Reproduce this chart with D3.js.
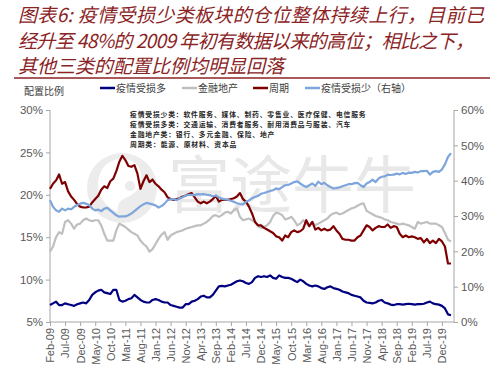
<!DOCTYPE html>
<meta charset="utf-8">
<style>
  body { margin: 0; background: #fff; }
  text { font-family: "Liberation Sans", Arial, sans-serif; }
  .cjk { font-family: "Noto Sans CJK SC", sans-serif; }
</style>
<script src="https://d3js.org/d3.v7.min.js"></script>
<div id="chart"></div>
<script>
// monthly data, Feb-09 .. Mar-20 (134 points)
var tickLabels = ["Feb-09","Jul-09","Dec-09","May-10","Oct-10","Mar-11","Aug-11","Jan-12","Jun-12","Nov-12",
  "Apr-13","Sep-13","Feb-14","Jul-14","Dec-14","May-15","Oct-15","Mar-16","Aug-16","Jan-17","Jun-17",
  "Nov-17","Apr-18","Sep-18","Feb-19","Jul-19","Dec-19"];

// 疫情受损多 (left axis)
var hurtMore = [7.0,7.2,7.4,7.0,7.0,7.2,7.1,7.0,6.9,7.1,7.2,
  7.3,7.2,7.6,8.2,8.5,8.7,8.8,8.5,8.4,8.3,8.8,8.8,
  7.6,7.4,7.5,7.7,7.8,8.2,7.9,7.6,7.4,7.3,7.3,7.6,
  7.7,7.6,7.4,7.3,7.3,7.0,6.9,6.8,6.7,6.7,7.1,7.1,
  7.4,7.5,7.7,8.0,8.1,7.9,7.9,8.2,8.7,9.2,9.25,9.2,
  9.3,9.4,9.6,9.8,9.9,9.8,9.6,9.5,9.7,10.2,10.4,10.3,
  10.4,10.3,10.5,10.2,10.1,10.5,10.3,10.2,10.2,10.1,9.9,9.7,
  10.0,9.8,9.5,9.3,9.2,9.3,9.2,9.0,8.9,9.1,9.2,9.0,
  8.9,8.8,8.6,8.5,8.4,8.2,8.1,8.0,7.9,7.5,7.3,7.25,
  7.2,7.3,7.5,7.6,7.3,7.2,7.05,7.0,7.1,7.1,7.05,7.1,
  7.15,7.1,7.05,7.1,7.1,7.15,7.3,7.4,7.2,7.1,7.05,6.9,
  6.6,5.9,5.8];

// 金融地产 (left axis)
var finance = [13.3,13.9,15.0,15.6,15.4,16.8,17.0,16.6,16.0,16.5,16.6,
  17.0,17.2,17.0,16.9,17.0,17.0,16.4,15.4,14.6,14.6,14.6,15.8,
  16.6,16.4,16.2,15.9,15.6,15.4,15.2,14.6,14.2,13.9,13.3,13.6,
  14.2,14.8,15.3,15.6,14.7,15.2,15.4,15.6,15.7,15.8,16.0,16.1,
  16.2,16.3,16.4,16.4,16.6,16.8,17.1,17.5,17.6,17.4,17.6,17.9,
  18.0,17.8,18.2,18.4,17.4,17.0,17.1,17.2,17.0,16.8,16.3,16.1,
  16.2,16.4,16.8,17.5,17.9,17.8,17.6,17.1,17.2,17.4,17.0,16.4,
  16.6,17.0,16.6,16.3,16.8,16.4,16.6,16.8,17.0,17.2,17.6,17.8,
  17.9,17.7,17.8,18.0,18.2,18.4,18.5,18.7,18.9,19.0,18.1,17.9,
  17.7,17.5,17.4,17.3,17.1,17.0,16.8,16.7,16.6,16.5,16.6,16.5,
  16.4,16.2,16.0,16.8,16.6,16.7,16.8,16.6,16.6,16.6,16.4,16.2,
  15.5,14.7,14.5];

// 周期 (left axis)
var cyclical = [20.7,21.3,21.7,22.4,21.3,21.5,20.4,19.8,19.4,18.9,18.6,
  18.5,18.5,18.6,19.1,19.5,19.9,20.6,21.0,20.8,21.6,21.9,22.8,
  23.9,24.6,24.1,23.4,23.3,23.5,22.5,20.7,21.6,22.3,21.5,21.8,
  21.3,21.0,20.6,20.3,19.7,19.5,19.4,19.5,19.6,19.8,19.9,20.1,
  20.2,19.7,19.2,19.0,19.2,19.0,19.2,19.5,19.9,19.2,19.4,19.4,
  19.4,19.5,19.6,19.8,20.2,19.5,19.2,18.6,17.8,16.8,16.4,16.4,
  16.1,15.9,15.7,15.5,15.1,15.0,14.6,15.2,15.0,15.6,15.8,15.6,
  15.7,16.0,17.0,16.3,16.8,15.9,16.1,15.8,16.0,15.8,15.9,16.3,
  15.8,15.4,14.8,14.7,14.7,14.6,14.6,15.0,15.2,15.8,16.4,16.2,
  15.8,16.1,16.3,16.2,16.2,16.5,16.1,16.3,16.2,15.4,15.0,15.2,
  15.0,15.1,15.0,14.8,14.9,14.4,14.8,14.3,14.6,14.3,14.8,14.5,
  13.9,11.9,11.9];

// 疫情受损少 (right axis)
var hurtLess = [34.5,32.6,31.6,31.2,32.1,31.6,32.1,31.9,32.6,33.1,33.5,
  33.7,33.5,33.1,32.1,31.6,31.8,31.4,32.1,32.3,31.6,30.9,30.2,
  29.8,29.9,29.9,30.2,30.7,31.4,32.1,32.8,33.3,33.7,33.5,33.3,
  33.0,32.4,32.8,33.5,34.5,34.7,34.8,34.5,35.0,35.3,35.8,36.0,
  36.0,35.9,36.2,36.1,36.2,36.0,35.9,35.6,35.8,35.3,34.9,34.7,
  34.6,34.3,34.0,33.6,33.4,33.3,34.0,34.4,35.0,35.4,35.7,36.3,
  36.5,36.8,37.1,37.3,37.8,37.6,38.2,38.7,38.8,39.2,39.6,39.8,
  39.2,38.6,38.2,38.7,39.2,38.5,39.7,39.0,39.4,38.7,38.2,37.8,
  37.9,38.1,38.4,38.7,39.0,39.0,39.3,39.4,38.7,38.2,39.2,39.6,
  40.3,39.6,40.6,41.1,41.2,41.7,41.6,41.7,42.0,41.8,42.2,41.9,
  42.3,42.2,42.5,42.3,42.7,42.7,42.8,41.7,42.5,42.7,42.5,43.2,
  44.6,46.7,47.8];

var leftTicks = [5, 10, 15, 20, 25, 30];
var rightTicks = [0, 10, 20, 30, 40, 50, 60];

var W = 497, H = 371;
var svg = d3.select("#chart").append("svg").attr("width", W).attr("height", H);

// title
var titleColor = "#8b2325";
var titleLines = ["图表6: 疫情受损少类板块的仓位整体持续上行，目前已",
                  "经升至 48%的 2009 年初有数据以来的高位；相比之下，",
                  "其他三类的配置比例均明显回落"];
var titleLen = [466, 456, 266];
titleLines.forEach(function(t, k) {
  svg.append("text").attr("class", "cjk")
    .attr("x", 18).attr("y", 22 + k * 25.5)
    .attr("font-size", 19).attr("font-style", "italic")
    .attr("fill", titleColor)
    .attr("textLength", titleLen[k]).attr("lengthAdjust", "spacing")
    .text(t);
});
svg.append("line").attr("x1", 14).attr("x2", 490).attr("y1", 78).attr("y2", 78)
  .attr("stroke", "#8b2325").attr("stroke-width", 1.5);

// scales
var x = d3.scaleLinear().domain([0, 134]).range([50, 454]);
var yL = d3.scaleLinear().domain([5, 30]).range([322, 110]);
var yR = d3.scaleLinear().domain([0, 60]).range([322, 110]);

// watermark
var wm = svg.append("g").attr("fill", "#ececec");
wm.append("circle").attr("cx", 122).attr("cy", 188).attr("r", 35);
wm.append("path").attr("fill", "#fff")
  .attr("d", "M103,168 C118,150 148,160 140,185 C135,200 115,195 118,212 C100,205 92,185 103,168 Z");
wm.append("circle").attr("cx", 130).attr("cy", 186).attr("r", 5).attr("fill", "#ececec");
wm.append("text").attr("class", "cjk").attr("x", 168).attr("y", 208)
  .attr("font-size", 62).attr("fill", "#e8e8e8").text("富途牛牛");

// axes
var axisColor = "#a6a6a6", labelColor = "#595959";
var gL = svg.append("g").attr("transform", "translate(50,0)")
  .call(d3.axisLeft(yL).tickValues(leftTicks).tickSize(4).tickFormat(function(d) { return d + "%"; }));
var gR = svg.append("g").attr("transform", "translate(454,0)")
  .call(d3.axisRight(yR).tickValues(rightTicks).tickSize(4).tickFormat(function(d) { return d + "%"; }));
var gX = svg.append("g").attr("transform", "translate(0,322)")
  .call(d3.axisBottom(x).tickValues(d3.range(0, 131, 5)).tickSize(4)
    .tickFormat(function(d, k) { return tickLabels[k]; }));
[gL, gR, gX].forEach(function(g) {
  g.selectAll("path, line").attr("stroke", axisColor);
  g.selectAll("text").attr("fill", labelColor).attr("font-size", 11.5)
    .attr("font-family", "Liberation Sans, Arial, sans-serif");
  g.select(".domain").attr("d", null);
});
gL.append("line").attr("y1", 110).attr("y2", 322).attr("stroke", axisColor);
gR.append("line").attr("y1", 110).attr("y2", 322).attr("stroke", axisColor);
gX.append("line").attr("x1", 50).attr("x2", 454).attr("stroke", axisColor);
gX.selectAll(".tick text")
  .attr("transform", "rotate(-90)").attr("text-anchor", "end")
  .attr("x", -6).attr("y", 0).attr("dy", "0.35em").attr("font-size", 11);

// lines
var series = [
  {vals: hurtMore, y: yL, color: "#000080"},
  {vals: finance, y: yL, color: "#bfbfbf"},
  {vals: cyclical, y: yL, color: "#7f0000"},
  {vals: hurtLess, y: yR, color: "#7ea6dc"}
];
series.forEach(function(s) {
  var line = d3.line().x(function(d, i) { return x(i); }).y(function(d) { return s.y(d); });
  svg.append("path").datum(s.vals).attr("d", line)
    .attr("fill", "none").attr("stroke", s.color).attr("stroke-width", 2.2)
    .attr("stroke-linejoin", "round");
});

// legend
svg.append("text").attr("class", "cjk").attr("x", 24).attr("y", 95)
  .attr("font-size", 10).attr("fill", "#404040").text("配置比例");
var legend = [
  {name: "疫情受损多", color: "#000080", x: 100},
  {name: "金融地产", color: "#bfbfbf", x: 182},
  {name: "周期", color: "#7f0000", x: 253},
  {name: "疫情受损少（右轴）", color: "#7ea6dc", x: 305}
];
legend.forEach(function(l) {
  svg.append("line").attr("x1", l.x).attr("x2", l.x + 15).attr("y1", 88).attr("y2", 88)
    .attr("stroke", l.color).attr("stroke-width", 2.5);
  svg.append("text").attr("class", "cjk").attr("x", l.x + 16).attr("y", 92)
    .attr("font-size", 10).attr("fill", "#404040").text(l.name);
});

// notes
var notes = ["疫情受损少类：软件服务、媒体、制药、零售业、医疗保健、电信服务",
             "疫情受损多类：交通运输、消费者服务、耐用消费品与服装、汽车",
             "金融地产类：银行、多元金融、保险、地产",
             "周期类：能源、原材料、资本品"];
notes.forEach(function(t, k) {
  svg.append("text").attr("class", "cjk").attr("x", 130).attr("y", 117 + k * 10)
    .attr("font-size", 6.8).attr("font-weight", "bold").attr("fill", "#262626")
    .attr("textLength", t.length * 7.6).attr("lengthAdjust", "spacing")
    .text(t);
});
</script>
